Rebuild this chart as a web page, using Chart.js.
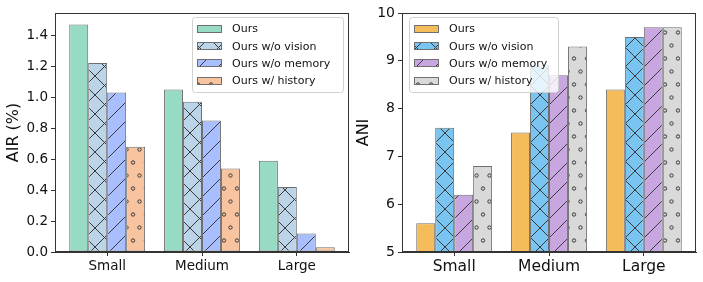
<!DOCTYPE html>
<html>
<head>
<meta charset="utf-8">
<script src="https://cdn.jsdelivr.net/npm/chart.js@4/dist/chart.umd.min.js"></script>
<style>
  html, body { margin: 0; padding: 0; background: #fff; }
  #wrap { position: relative; width: 703px; height: 282px; overflow: hidden; }
  #left { position: absolute; left: 0; top: 0; }
  #right { position: absolute; left: 350px; top: 0; }
</style>
</head>
<body>
<div id="wrap">
  <canvas id="left" width="360" height="282"></canvas>
  <canvas id="right" width="353" height="282"></canvas>
</div>
<script>
// data
const categories = ['Small', 'Medium', 'Large'];
const seriesNames = ['Ours', 'Ours w/o vision', 'Ours w/o memory', 'Ours w/ history'];

const airOurs = [1.47, 1.05, 0.59];
const airNoVision = [1.22, 0.97, 0.42];
const airNoMemory = [1.03, 0.85, 0.12];
const airHistory = [0.68, 0.54, 0.03];

const aniOurs = [5.6, 7.5, 8.4];
const aniNoVision = [7.6, 8.9, 9.5];
const aniNoMemory = [6.2, 8.7, 9.7];
const aniHistory = [6.8, 9.3, 9.7];

const airTicks = [0, 0.2, 0.4, 0.6, 0.8, 1.0, 1.2, 1.4];
const aniTicks = [5, 6, 7, 8, 9, 10];

window.addEventListener('load', onLoad);

const EDGE = '#6f6f6f';
const HATCH = '#3a3a3a';
const FONT = "'DejaVu Sans', sans-serif";

function makePattern(bg, kind) {
    const c = document.createElement('canvas');
    const P = 19;
    if (kind === 'o') {
        c.width = 13; c.height = 26;
    } else {
        c.width = P; c.height = P;
    }
    const g = c.getContext('2d');
    g.fillStyle = bg;
    g.fillRect(0, 0, c.width, c.height);
    g.strokeStyle = HATCH;
    g.lineWidth = 1;
    if (kind === '/' || kind === 'x') {
        g.beginPath();
        g.moveTo(-P, 2 * P); g.lineTo(2 * P, -P);
        g.moveTo(-P, P); g.lineTo(P, -P);
        g.moveTo(0, 2 * P); g.lineTo(2 * P, 0);
        g.stroke();
    }
    if (kind === 'x') {
        g.beginPath();
        g.moveTo(-P, -P); g.lineTo(2 * P, 2 * P);
        g.moveTo(-P, 0); g.lineTo(P, 2 * P);
        g.moveTo(0, -P); g.lineTo(2 * P, P);
        g.stroke();
    }
    if (kind === 'o') {
        g.lineWidth = 1;
        [[3, 6.5], [9.5, 19.5]].forEach(p => {
            g.beginPath();
            g.arc(p[0], p[1], 1.7, 0, Math.PI * 2);
            g.stroke();
        });
    }
    const tmp = document.createElement('canvas').getContext('2d');
    return tmp.createPattern(c, 'repeat');
}

function points(vals) {
    return vals.map((v, i) => ({ x: i, y: v }));
}

const framePlugin = {
    id: 'frame',
    afterDraw(chart) {
        const a = chart.chartArea;
        const ctx = chart.ctx;
        ctx.save();
        ctx.strokeStyle = '#333';
        ctx.lineWidth = 1;
        ctx.strokeRect(Math.round(a.left) + 0.5, Math.round(a.top) + 0.5,
            Math.round(a.right - a.left) - 1, Math.round(a.bottom - a.top) - 1);
        ctx.restore();
    }
};

const boxLegend = {
    id: 'boxLegend',
    afterDraw(chart, args, opts) {
        const ctx = chart.ctx;
        ctx.save();
        ctx.beginPath();
        ctx.roundRect(opts.x + 0.5, opts.y + 0.5, opts.w, opts.h, 3);
        ctx.fillStyle = 'rgba(255,255,255,0.8)';
        ctx.fill();
        ctx.strokeStyle = 'rgba(204,204,204,0.9)';
        ctx.lineWidth = 1;
        ctx.stroke();
        chart.data.datasets.forEach((ds, i) => {
            const cy = opts.y + 12 + i * 17.2;
            const px = opts.x + 5;
            ctx.fillStyle = ds.backgroundColor;
            ctx.fillRect(px, Math.round(cy - 4), 25, 8);
            ctx.strokeStyle = EDGE;
            ctx.strokeRect(px + 0.5, Math.round(cy - 4) + 0.5, 24, 7);
            ctx.fillStyle = '#111';
            ctx.font = '11px ' + FONT;
            ctx.textBaseline = 'middle';
            ctx.fillText(ds.label, opts.x + 40, cy + 0.5);
        });
        ctx.restore();
    }
};

function buildChart(id, sets, colors, kinds, yMin, yMax, yTicks, yTitle, yFmt, sizes) {
    const ctx = document.getElementById(id).getContext('2d');
    return new Chart(ctx, {
        type: 'bar',
        data: {
            datasets: sets.map((vals, i) => ({
                label: seriesNames[i],
                data: points(vals),
                backgroundColor: makePattern(colors[i], kinds[i]),
                borderColor: EDGE,
                borderWidth: 1,
                borderSkipped: false,
                barPercentage: 1,
                categoryPercentage: 0.8
            }))
        },
        options: {
            responsive: false,
            animation: false,
            devicePixelRatio: 1,
            layout: { padding: { top: 13, right: sizes.padRight, left: 0, bottom: 0 } },
            plugins: {
                legend: { display: false },
                tooltip: { enabled: false },
                boxLegend: sizes.legend
            },
            scales: {
                x: {
                    type: 'linear',
                    offset: false,
                    min: -0.55,
                    max: 2.55,
                    afterBuildTicks: s => { s.ticks = categories.map((c, i) => ({ value: i })); },
                    afterFit: s => { s.height = 30; },
                    grid: { offset: false, drawOnChartArea: false, drawTicks: true, tickLength: 4, color: '#333' },
                    border: { display: true, color: '#333' },
                    ticks: {
                        padding: 2,
                        color: '#111',
                        font: { family: FONT, size: sizes.xFont },
                        callback: v => categories[v]
                    }
                },
                y: {
                    min: yMin,
                    max: yMax,
                    afterBuildTicks: s => { s.ticks = yTicks.map(v => ({ value: v })); },
                    afterFit: s => { s.width = sizes.yWidth; },
                    grid: { drawOnChartArea: false, drawTicks: true, tickLength: 4, color: '#333' },
                    border: { display: true, color: '#333' },
                    ticks: {
                        padding: 3,
                        color: '#111',
                        font: { family: FONT, size: sizes.yFont },
                        callback: yFmt
                    },
                    title: {
                        display: true,
                        text: yTitle,
                        color: '#111',
                        padding: { top: 4, bottom: 0 },
                        font: { family: FONT, size: 16 }
                    }
                }
            }
        },
        plugins: [framePlugin, boxLegend]
    });
}

function onLoad() {
    // left: AIR
    buildChart('left',
        [airOurs, airNoVision, airNoMemory, airHistory],
        ['rgb(152,219,196)', 'rgb(188,212,232)', 'rgb(168,190,255)', 'rgb(248,196,160)'],
        ['', 'x', '/', 'o'],
        0, 1.5435, airTicks, 'AIR (%)', v => v.toFixed(1),
        { padRight: 11, yWidth: 55, xFont: 13.5, yFont: 13.5,
          legend: { x: 192, y: 17, w: 151, h: 75 } });

    // right: ANI
    buildChart('right',
        [aniOurs, aniNoVision, aniNoMemory, aniHistory],
        ['rgb(245,188,92)', 'rgb(121,196,240)', 'rgb(200,166,224)', 'rgb(217,217,217)'],
        ['', 'x', '/', 'o'],
        5, 10, aniTicks, 'ANI', v => String(v),
        { padRight: 7, yWidth: 52, xFont: 15.5, yFont: 14,
          legend: { x: 59, y: 17, w: 149, h: 75 } });
}
</script>
</body>
</html>
